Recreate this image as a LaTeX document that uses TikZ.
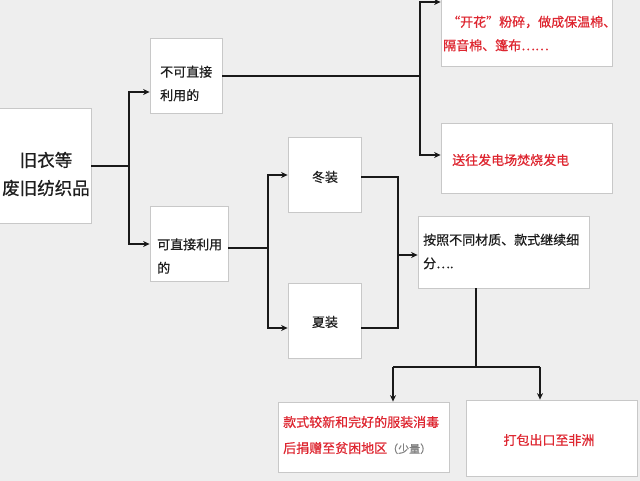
\documentclass[tikz,border=0pt]{standalone}
\usepackage{fontspec}
\newfontfamily\cjk[FakeBold=0.6]{Noto Sans CJK SC}
\usetikzlibrary{arrows.meta,shadows}
\definecolor{bg}{RGB}{238,238,238}
\definecolor{txtred}{RGB}{222,38,48}
\definecolor{txtblk}{RGB}{30,30,30}
\definecolor{bord}{RGB}{200,200,200}
\tikzset{
  x=1pt,y=-1pt,
  box/.style={draw=bord,line width=0.8pt,fill=white,inner sep=0pt,
    drop shadow={opacity=0.12,shadow xshift=1pt,shadow yshift=-1pt}},
  lbl/.style={inner sep=0pt,font=\cjk\fontsize{13}{23.5}\selectfont,text=txtblk,align=left},
  rlbl/.style={lbl,text=txtred},
  ln/.style={line width=1.8pt,draw=black!90},
  arr/.style={ln,-{Stealth[length=6.5pt,width=6pt]}},
}
\begin{document}
\begin{tikzpicture}
\useasboundingbox[fill=bg] (0,0) rectangle (640,481);
% boxes
\node[box,minimum width=92pt,minimum height=115pt] (b1) at (45,165.5) {};
\node[box,minimum width=72pt,minimum height=75pt] (b2) at (186,75.5) {};
\node[box,minimum width=78pt,minimum height=75pt] (b3) at (189,243.5) {};
\node[box,minimum width=73pt,minimum height=75pt] (b4) at (324.5,174.5) {};
\node[box,minimum width=73pt,minimum height=75pt] (b5) at (324.5,320.5) {};
\node[box,minimum width=171pt,minimum height=74pt] (b6) at (526.5,29) {};
\node[box,minimum width=171pt,minimum height=70pt] (b7) at (526.5,158) {};
\node[box,minimum width=171pt,minimum height=72pt] (b8) at (503.5,252) {};
\node[box,minimum width=171pt,minimum height=70pt] (b9) at (363.5,437) {};
\node[box,minimum width=171pt,minimum height=76pt] (b10) at (551.5,438) {};
% texts
\node[lbl,align=center,font=\cjk\fontsize{17.5}{28}\selectfont] (t1) at (46,174) {旧衣等\\废旧纺织品};
\node[lbl,anchor=west] (t2) at (160,83.5) {不可直接\\利用的};
\node[lbl,anchor=west] (t3) at (157,256) {可直接利用\\的};
\node[lbl] (t4) at (325,177) {冬装};
\node[lbl] (t5) at (325,322) {夏装};
\node[rlbl,anchor=west] (t6) at (443,33.5) {\hspace*{4pt}“开花”粉碎，做成保温棉、\\隔音棉、篷布……};
\node[rlbl,anchor=west] (t7) at (452,160) {送往发电场焚烧发电};
\node[lbl,anchor=west] (t8) at (423,251.5) {按照不同材质、款式继续细\\分….};
\node[rlbl,anchor=west,font=\cjk\fontsize{13}{26}\selectfont] (t9) at (283,435) {款式较新和完好的服装消毒\\后捐赠至贫困地区\textcolor{gray}{\fontsize{11}{26}\selectfont（少量）}};
\node[rlbl] (t10) at (549,440) {打包出口至非洲};
% connectors
\coordinate (j1) at (129,166);
\coordinate (j2) at (420,76);
\coordinate (j3) at (268,248);
\coordinate (j4a) at (398,177);
\coordinate (j4b) at (398,328);
\coordinate (j4) at (398,255);
\coordinate (j5) at (476,367);
\coordinate (j5l) at (393,367);
\coordinate (j5r) at (540,367);
\draw[ln] (b1.east |- j1) -- (j1);
\draw[arr] (j1) |- (b2.west |- 0,92);
\draw[arr] (j1) |- (b3.west |- 0,244);
\draw[ln] (b2.east |- j2) -- (j2);
\draw[arr] (j2) |- (b6.west |- 0,2);
\draw[arr] (j2) |- (b7.west |- 0,155);
\draw[ln] (b3.east |- j3) -- (j3);
\draw[arr] (j3) |- (b4.west |- 0,175);
\draw[arr] (j3) |- (b5.west |- 0,328);
\draw[ln] (b4.east |- j4a) -- (j4a) -- (j4b) -- (b5.east |- j4b);
\draw[arr] (j4) -- (b8.west |- j4);
\draw[ln] (b8.south -| j5) -- (j5);
\draw[ln] (j5l) -- (j5r);
\draw[arr] (j5l) -- (j5l |- b9.north);
\draw[arr] (j5r) -- (j5r |- b10.north);
\end{tikzpicture}
\end{document}
